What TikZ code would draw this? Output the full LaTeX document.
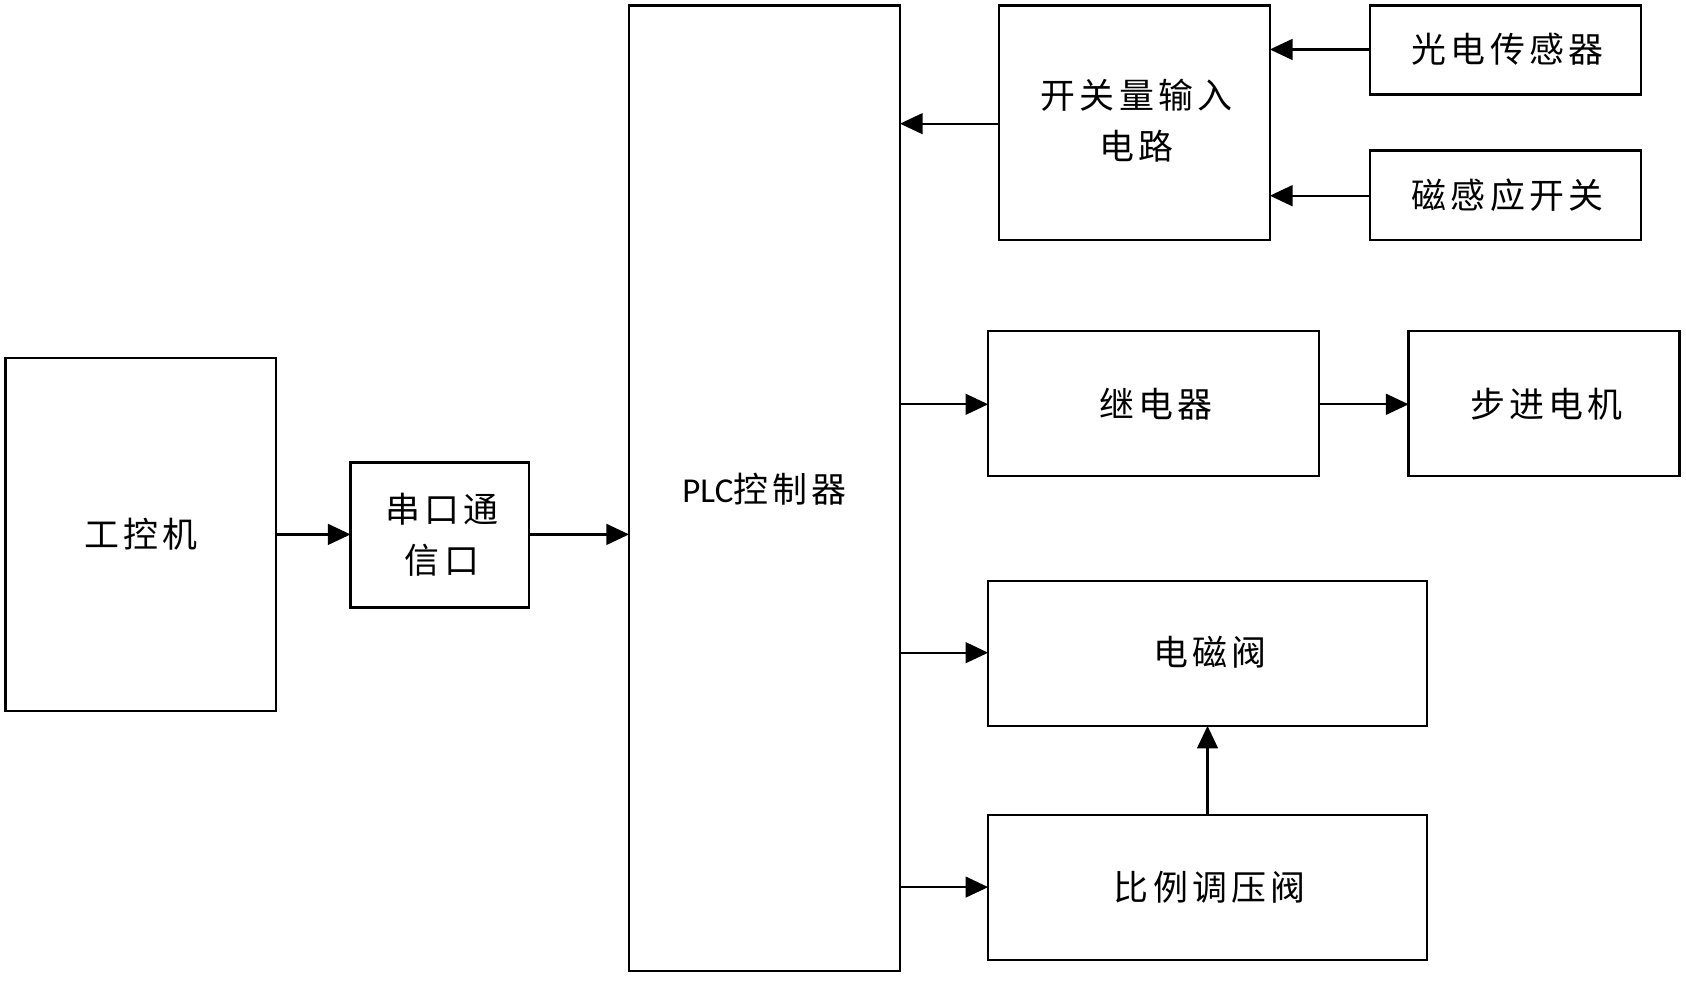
\documentclass[tikz,border=0pt]{standalone}
\usepackage{fontspec}
\setmainfont{Carlito}
\newfontfamily\cjk[LetterSpace=12]{Noto Sans CJK SC}
\usetikzlibrary{arrows.meta}
\begin{document}
\begin{tikzpicture}[x=0.02cm,y=-0.02cm,
  box/.style={draw,line width=1.2pt,inner sep=0pt},
  lbl/.style={font=\cjk\fontsize{18.5}{27}\selectfont,align=center},
  arr/.style={line width=1.2pt,-{Triangle[length=12pt,width=11pt]}}]
\useasboundingbox (0,0) rectangle (1568,913);
\fill[white] (0,0) rectangle (1568,913);
\draw[box] (5,333) rectangle (257,661); \node[lbl] (ipc) at (131,497) {工控机};
\coordinate (ipcR) at (257,497);
\draw[box] (326,430) rectangle (492,565); \node[lbl] (ser) at (411,497) {串口通\\信口};
\coordinate (serL) at (326,497); \coordinate (serR) at (492,497);
\draw[box] (585,5) rectangle (837,903); \node[lbl] (plc) at (711,455) {{\fontspec{Carlito}PLC}控制器};
\draw[box] (929,5) rectangle (1181,223); \node[lbl] (sw) at (1057,112) {开关量输入\\电路};
\draw[box] (1274,5) rectangle (1526,88); \node[lbl] (ph) at (1402,46) {光电传感器};
\draw[box] (1274,140) rectangle (1526,223); \node[lbl] (mag) at (1402,182) {磁感应开关};
\draw[box] (919,308) rectangle (1227,443); \node[lbl] (rel) at (1075,376) {继电器};
\draw[box] (1310,308) rectangle (1562,443); \node[lbl] (mot) at (1438,376) {步进电机};
\draw[box] (919,540) rectangle (1327,675); \node[lbl] (sol) at (1125,607) {电磁阀};
\draw[box] (919,758) rectangle (1327,893); \node[lbl] (prop) at (1125,825) {比例调压阀};
\draw[arr] (ipcR) -- (serL);
\draw[arr] (serR) -- (585,497);
\draw[arr] (929,115) -- (837,115);
\draw[arr] (1274,46) -- (1181,46);
\draw[arr] (1274,182) -- (1181,182);
\draw[arr] (837,376) -- (919,376);
\draw[arr] (1227,376) -- (1310,376);
\draw[arr] (837,607) -- (919,607);
\draw[arr] (837,825) -- (919,825);
\draw[arr] (1123,758) -- (1123,675);
\end{tikzpicture}
\end{document}
